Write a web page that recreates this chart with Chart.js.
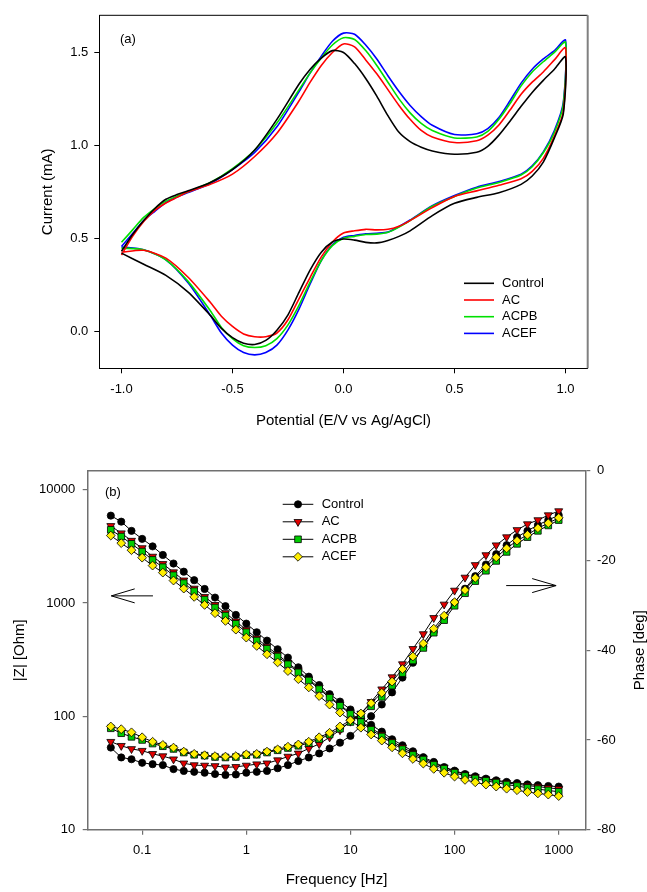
<!DOCTYPE html>
<html>
<head>
<meta charset="utf-8">
<script src="https://cdn.jsdelivr.net/npm/chart.js@4.4.0/dist/chart.umd.min.js"></script>
<style>
  body { margin: 0; background: #fff; }
  #wrap { position: relative; width: 647px; height: 892px; }
  #cvChart { position: absolute; left: 0; top: 0; }
  #bodeChart { position: absolute; left: 0; top: 440px; }
</style>
</head>
<body>
<div id="wrap">
  <canvas id="cvChart" width="647" height="440"></canvas>
  <canvas id="bodeChart" width="647" height="452"></canvas>
</div>
<script>
// ---------- panel (a): cyclic voltammograms ----------
const cvNames = ['Control', 'AC', 'ACPB', 'ACEF'];
const potentialTicks = [-1.0, -0.5, 0.0, 0.5, 1.0];
const currentTicks = [0.0, 0.5, 1.0, 1.5];

// potential (V) of the forward (anodic) and reverse (cathodic) sweeps
const scanForward = [-1.0, -0.95, -0.9, -0.85, -0.8, -0.75, -0.7, -0.6, -0.5, -0.4, -0.3, -0.2, -0.15, -0.1, -0.05, 0.0,
  0.05, 0.1, 0.15, 0.2, 0.25, 0.3, 0.35, 0.4, 0.5, 0.6, 0.65, 0.7, 0.75, 0.8, 0.85, 0.9, 0.95, 1.0];
const scanReverse = [0.99, 0.95, 0.9, 0.85, 0.8, 0.7, 0.6, 0.5, 0.4, 0.3, 0.25, 0.2, 0.15, 0.1, 0.05, 0.0,
  -0.05, -0.1, -0.15, -0.2, -0.25, -0.3, -0.35, -0.4, -0.45, -0.5, -0.55, -0.6, -0.7, -0.8, -0.9, -1.0];

// current (mA)
const controlFwd = [0.43, 0.52, 0.595, 0.66, 0.71, 0.735, 0.755, 0.80, 0.87, 0.975, 1.14, 1.33, 1.41, 1.47, 1.51, 1.50,
  1.44, 1.36, 1.265, 1.16, 1.07, 1.02, 0.99, 0.97, 0.952, 0.963, 0.995, 1.055, 1.13, 1.21, 1.285, 1.35, 1.41, 1.476];
const controlRev = [1.17, 1.04, 0.91, 0.835, 0.79, 0.745, 0.72, 0.688, 0.622, 0.54, 0.51, 0.488, 0.475, 0.478, 0.49, 0.496,
  0.48, 0.425, 0.33, 0.21, 0.088, 0.005, -0.05, -0.072, -0.065, -0.035, 0.015, 0.085, 0.21, 0.30, 0.36, 0.42];
const acFwd = [0.41, 0.51, 0.59, 0.65, 0.69, 0.72, 0.75, 0.79, 0.845, 0.94, 1.065, 1.24, 1.34, 1.43, 1.50, 1.546,
  1.53, 1.46, 1.385, 1.30, 1.215, 1.14, 1.08, 1.045, 1.015, 1.025, 1.055, 1.11, 1.19, 1.275, 1.34, 1.395, 1.46, 1.525];
const acRev = [1.18, 1.05, 0.93, 0.86, 0.82, 0.785, 0.755, 0.725, 0.665, 0.595, 0.565, 0.548, 0.545, 0.548, 0.54, 0.528,
  0.48, 0.40, 0.29, 0.175, 0.061, -0.01, -0.03, -0.03, -0.015, 0.025, 0.08, 0.155, 0.29, 0.393, 0.435, 0.425];
const acpbFwd = [0.478, 0.545, 0.612, 0.66, 0.70, 0.727, 0.75, 0.80, 0.875, 0.975, 1.12, 1.30, 1.39, 1.47, 1.54, 1.579,
  1.57, 1.51, 1.43, 1.34, 1.25, 1.175, 1.118, 1.08, 1.04, 1.045, 1.075, 1.14, 1.225, 1.32, 1.395, 1.45, 1.50, 1.555];
const acpbRev = [1.22, 1.07, 0.96, 0.885, 0.84, 0.80, 0.77, 0.725, 0.672, 0.595, 0.56, 0.532, 0.522, 0.52, 0.51, 0.50,
  0.46, 0.38, 0.265, 0.14, 0.034, -0.04, -0.078, -0.088, -0.078, -0.04, 0.02, 0.11, 0.268, 0.384, 0.438, 0.447];
const acefFwd = [0.456, 0.525, 0.595, 0.645, 0.692, 0.722, 0.746, 0.795, 0.87, 0.962, 1.10, 1.29, 1.39, 1.48, 1.56, 1.604,
  1.598, 1.54, 1.465, 1.375, 1.29, 1.215, 1.155, 1.108, 1.058, 1.062, 1.09, 1.15, 1.24, 1.335, 1.41, 1.465, 1.51, 1.566];
const acefRev = [1.23, 1.08, 0.965, 0.89, 0.845, 0.805, 0.775, 0.73, 0.675, 0.598, 0.563, 0.533, 0.527, 0.524, 0.515, 0.505,
  0.465, 0.38, 0.255, 0.12, 0.007, -0.075, -0.115, -0.128, -0.115, -0.075, -0.01, 0.085, 0.26, 0.384, 0.438, 0.453];

// ---------- panel (b): Bode plot ----------
const bodeNames = ['Control', 'AC', 'ACPB', 'ACEF'];
const freqTicks = [0.1, 1, 10, 100, 1000];
const impedanceTicks = [10, 100, 1000, 10000];
const phaseTicks = [-80, -60, -40, -20, 0];

const freqHz = [0.05, 0.063, 0.079, 0.1, 0.126, 0.158, 0.2, 0.251, 0.316, 0.398, 0.501, 0.631, 0.794,
  1, 1.26, 1.58, 2, 2.51, 3.16, 3.98, 5.01, 6.31, 7.94,
  10, 12.6, 15.8, 20, 25.1, 31.6, 39.8, 50.1, 63.1, 79.4,
  100, 126, 158, 200, 251, 316, 398, 501, 631, 794, 1000];

// |Z| (Ohm)
const zControl = [5900, 5220, 4330, 3680, 3160, 2655, 2230, 1890, 1590, 1330, 1117, 938, 785,
  658, 552, 466, 391, 330, 271, 224, 189, 157, 135,
  115, 97.7, 84.1, 73.3, 62.8, 55.6, 49.2, 43.6, 39.6, 35.7,
  33.2, 31.0, 29.6, 28.2, 27.3, 26.4, 25.8, 25.1, 24.7, 24.3, 24.0];
const zAC = [4790, 4130, 3550, 3055, 2570, 2213, 1871, 1585, 1343, 1135, 964, 817, 689,
  579, 488, 413, 351, 297, 251, 212, 179, 150, 126.5,
  107, 91.2, 78.5, 69.2, 60.3, 53.3, 47.4, 42.7, 38.5, 35.5,
  32.7, 30.7, 29.2, 27.9, 26.9, 25.9, 25.2, 24.5, 24.0, 23.4, 22.9];
const zACPB = [4420, 3855, 3327, 2844, 2399, 2070, 1758, 1496, 1271, 1072, 912, 774, 655,
  552, 466, 395, 337, 288, 244, 207, 174, 146, 124,
  105, 89.1, 76.2, 66.4, 58.2, 51.3, 45.7, 41.5, 37.3, 34.5,
  31.8, 29.8, 28.3, 27.0, 26.0, 25.0, 24.3, 23.4, 22.8, 22.2, 21.6];
const zACEF = [3936, 3373, 2924, 2512, 2138, 1854, 1578, 1340, 1132, 962, 813, 695, 582,
  495, 418, 353, 299, 251, 213, 180, 151, 127, 108,
  92.3, 79.4, 69.2, 61.1, 53.3, 47.2, 42.1, 38.3, 34.4, 31.8,
  29.4, 27.5, 26.2, 25.0, 24.0, 23.0, 22.3, 21.5, 20.9, 20.4, 19.8];

// phase (deg)
const phControl = [-61.7, -63.9, -64.3, -65.1, -65.4, -65.6, -66.5, -66.9, -67.1, -67.3, -67.6, -67.8, -67.7,
  -67.3, -67.1, -66.9, -66.3, -65.6, -64.7, -63.9, -63.0, -61.9, -60.6,
  -59.1, -56.9, -54.7, -52.1, -49.4, -46.1, -42.8, -39.2, -35.9, -32.7,
  -29.4, -26.3, -23.5, -20.9, -18.6, -16.6, -14.8, -13.4, -12.1, -11.0, -9.9];
const phAC = [-60.4, -61.3, -62.0, -62.4, -63.1, -63.6, -64.3, -65.2, -65.6, -65.7, -65.8, -66.1, -66.0,
  -65.7, -65.4, -65.2, -64.5, -63.7, -63.0, -61.9, -60.9, -59.4, -57.8,
  -55.9, -54.1, -51.5, -48.7, -46.0, -43.1, -39.7, -36.4, -32.8, -29.8,
  -26.7, -23.8, -21.0, -18.8, -16.6, -14.8, -13.2, -11.9, -11.0, -9.9, -9.0];
const phACPB = [-57.4, -58.5, -59.3, -60.0, -60.8, -61.4, -62.0, -62.8, -63.3, -63.5, -63.8, -63.9, -63.8,
  -63.4, -63.3, -62.8, -62.3, -61.8, -61.3, -60.7, -59.8, -58.8, -57.5,
  -56.0, -54.5, -52.5, -50.4, -47.9, -45.1, -42.3, -39.5, -36.1, -33.3,
  -30.1, -27.3, -24.6, -22.3, -20.1, -18.1, -16.3, -14.8, -13.4, -12.2, -11.0];
const phACEF = [-57.0, -57.6, -58.3, -59.4, -60.4, -61.1, -61.7, -62.6, -63.1, -63.4, -63.6, -63.7, -63.6,
  -63.2, -63.1, -62.6, -62.1, -61.5, -61.0, -60.4, -59.4, -58.4, -57.0,
  -55.6, -54.1, -51.8, -49.5, -47.0, -44.2, -41.4, -38.5, -35.2, -32.3,
  -29.3, -26.6, -23.9, -21.5, -19.3, -17.3, -15.6, -14.3, -12.8, -11.7, -10.5];

const FONT = '"Liberation Sans", Arial, Helvetica, sans-serif';
Chart.defaults.font.family = FONT;
Chart.defaults.color = '#000';

// draws the missing frame edges round the plot area
const frameBox = {
  id: 'frameBox',
  afterDraw(chart, args, opts) {
    const { ctx, chartArea: a } = chart;
    ctx.save();
    if (opts.top) {
      ctx.strokeStyle = opts.top; ctx.lineWidth = opts.width;
      ctx.beginPath(); ctx.moveTo(a.left, a.top); ctx.lineTo(a.right, a.top); ctx.stroke();
    }
    if (opts.right) {
      ctx.strokeStyle = opts.right; ctx.lineWidth = opts.rightWidth || opts.width;
      ctx.beginPath(); ctx.moveTo(a.right, a.top); ctx.lineTo(a.right, a.bottom); ctx.stroke();
    }
    ctx.restore();
  }
};

function drawMarker(ctx, style, x, y, r, fill) {
  ctx.save();
  ctx.fillStyle = fill; ctx.strokeStyle = '#000'; ctx.lineWidth = 0.8;
  ctx.beginPath();
  if (style === 'circle') {
    ctx.arc(x, y, r, 0, Math.PI * 2);
  } else if (style === 'triangle') {
    ctx.moveTo(x, y + r); ctx.lineTo(x - r * 0.866, y - r * 0.5); ctx.lineTo(x + r * 0.866, y - r * 0.5); ctx.closePath();
  } else if (style === 'rect') {
    const s = r * Math.SQRT1_2; ctx.rect(x - s, y - s, 2 * s, 2 * s);
  } else {
    ctx.moveTo(x, y - r); ctx.lineTo(x + r, y); ctx.lineTo(x, y + r); ctx.lineTo(x - r, y); ctx.closePath();
  }
  ctx.fill(); ctx.stroke();
  ctx.restore();
}

// legend, panel letter, arrows and right title drawn inside the plot
const extras = {
  id: 'extras',
  afterDatasetsDraw(chart, args, opts) {
    const { ctx, chartArea: a } = chart;
    ctx.save();
    ctx.font = '13px ' + FONT;
    ctx.textBaseline = 'middle';
    ctx.fillStyle = '#000';
    ctx.fillText(opts.letter, a.left + opts.letterX, a.top + opts.letterY);

    const lg = opts.legend;
    lg.items.forEach((it, i) => {
      const x = a.left + lg.x, y = a.top + lg.y + i * lg.gap;
      ctx.strokeStyle = it.color; ctx.lineWidth = it.width;
      ctx.beginPath(); ctx.moveTo(x, y); ctx.lineTo(x + lg.len, y); ctx.stroke();
      if (it.marker) drawMarker(ctx, it.marker, x + lg.len / 2, y, it.radius, it.fill);
      ctx.fillStyle = '#000';
      ctx.fillText(it.label, x + lg.textX, y);
    });

    (opts.arrows || []).forEach(ar => {
      const xs = chart.scales.x, ys = chart.scales[ar.axis];
      const xt = xs.getPixelForValue(ar.tail), xp = xs.getPixelForValue(ar.tip);
      const xh = xs.getPixelForValue(ar.head), y = ys.getPixelForValue(ar.y);
      ctx.strokeStyle = '#000'; ctx.lineWidth = 1;
      ctx.beginPath();
      ctx.moveTo(xt, y); ctx.lineTo(xp, y);
      ctx.moveTo(xh, y - 7); ctx.lineTo(xp, y); ctx.lineTo(xh, y + 7);
      ctx.stroke();
    });

    if (opts.rightTitle) {
      ctx.font = '15px ' + FONT;
      ctx.textAlign = 'center';
      ctx.translate(opts.rightTitleX, (a.top + a.bottom) / 2);
      ctx.rotate(-Math.PI / 2);
      ctx.fillText(opts.rightTitle, 0, 0);
    }
    ctx.restore();
  }
};

// ---------- chart (a) ----------
const cvFwd = [controlFwd, acFwd, acpbFwd, acefFwd];
const cvRev = [controlRev, acRev, acpbRev, acefRev];
const cvColors = ['#000000', '#ff0000', '#00e000', '#0000ff'];

new Chart(document.getElementById('cvChart'), {
  type: 'scatter',
  data: {
    datasets: cvNames.map((name, i) => ({
      label: name,
      data: scanForward.map((x, j) => ({ x: x, y: cvFwd[i][j] }))
        .concat(scanReverse.map((x, j) => ({ x: x, y: cvRev[i][j] }))),
      showLine: true,
      borderColor: cvColors[i],
      borderWidth: 1.6,
      pointRadius: 0,
      tension: 0.25
    }))
  },
  options: {
    responsive: false,
    animation: false,
    events: [],
    layout: { padding: { top: 15.3, right: 59.3, left: 0, bottom: 0 } },
    plugins: {
      legend: { display: false },
      tooltip: { enabled: false },
      frameBox: { top: '#000', right: '#808080', width: 1, rightWidth: 2 },
      extras: {
        letter: '(a)', letterX: 20.7, letterY: 23.7,
        legend: {
          x: 364.7, y: 268, gap: 16.7, len: 30, textX: 38,
          items: cvNames.map((n, i) => ({ label: n, color: cvColors[i], width: 1.6 }))
        }
      }
    },
    scales: {
      x: {
        type: 'linear', min: -1.1, max: 1.1,
        afterBuildTicks: s => { s.ticks = potentialTicks.map(v => ({ value: v })); },
        afterFit: s => { s.height = 71.7; },
        ticks: { font: { size: 13 }, padding: 8, autoSkip: false, maxRotation: 0, callback: v => v.toFixed(1) },
        grid: { display: true, drawOnChartArea: false, drawTicks: true, tickLength: 5, color: '#000' },
        border: { display: true, color: '#000', width: 1 },
        title: { display: true, text: 'Potential (E/V vs Ag/AgCl)', font: { size: 15 }, padding: { top: 0, bottom: 10 } }
      },
      y: {
        type: 'linear', min: -0.2, max: 1.7,
        afterBuildTicks: s => { s.ticks = currentTicks.map(v => ({ value: v })); },
        afterFit: s => { s.width = 99.3; },
        ticks: { font: { size: 13 }, padding: 6, autoSkip: false, callback: v => v.toFixed(1) },
        grid: { display: true, drawOnChartArea: false, drawTicks: true, tickLength: 5, color: '#000' },
        border: { display: true, color: '#000', width: 1 },
        title: { display: true, text: 'Current (mA)', font: { size: 15 }, padding: { top: 39, bottom: 0 } }
      }
    }
  },
  plugins: [frameBox, extras]
});

// ---------- chart (b) ----------
const zSets = [zControl, zAC, zACPB, zACEF];
const phSets = [phControl, phAC, phACPB, phACEF];
const bodeFill = ['#000000', '#e00000', '#00cc00', '#ffee00'];
const bodeMarker = ['circle', 'triangle', 'rect', 'rectRot'];
const bodeRadius = [3.6, 4.6, 4.7, 4.4];
const bodeOrder = [4, 3, 2, 1];
const axisGray = '#707070';

function bodeDataset(name, i, values, axis) {
  return {
    label: name,
    data: freqHz.map((f, j) => ({ x: f, y: values[j] })),
    yAxisID: axis,
    showLine: true,
    borderColor: '#000',
    borderWidth: 1,
    pointStyle: bodeMarker[i],
    pointRotation: bodeMarker[i] === 'triangle' ? 180 : 0,
    pointRadius: bodeRadius[i],
    pointBackgroundColor: bodeFill[i],
    pointBorderColor: '#000',
    pointBorderWidth: 0.8,
    order: bodeOrder[i]
  };
}

const bodeSets = [];
bodeNames.forEach((n, i) => {
  bodeSets.push(bodeDataset(n, i, zSets[i], 'y'));
  bodeSets.push(bodeDataset(n + ' phase', i, phSets[i], 'y2'));
});

new Chart(document.getElementById('bodeChart'), {
  type: 'scatter',
  data: { datasets: bodeSets },
  options: {
    responsive: false,
    animation: false,
    events: [],
    layout: { padding: { top: 30.7, right: 0, left: 0, bottom: 0 } },
    plugins: {
      legend: { display: false },
      tooltip: { enabled: false },
      frameBox: { top: axisGray, width: 1.5 },
      extras: {
        letter: '(b)', letterX: 17.3, letterY: 22,
        legend: {
          x: 195, y: 33.6, gap: 17.5, len: 30.6, textX: 39,
          items: bodeNames.map((n, i) => ({
            label: n, color: '#000', width: 1, marker: bodeMarker[i] === 'triangle' ? 'triangle' : bodeMarker[i],
            radius: bodeRadius[i], fill: bodeFill[i]
          }))
        },
        arrows: [
          { axis: 'y', tail: 0.127, tip: 0.0506, head: 0.0848, y: 1156 },
          { axis: 'y2', tail: 313, tip: 944, head: 556, y: -25.6 }
        ],
        rightTitle: 'Phase [deg]', rightTitleX: 640
      }
    },
    scales: {
      x: {
        type: 'logarithmic', min: 0.03, max: 1800,
        afterBuildTicks: s => { s.ticks = freqTicks.map(v => ({ value: v })); },
        afterFit: s => { s.height = 62.3; },
        ticks: { font: { size: 13 }, padding: 7.5, autoSkip: false, maxRotation: 0, callback: v => String(v) },
        grid: { display: true, drawOnChartArea: false, drawTicks: true, tickLength: 5, color: axisGray, lineWidth: 1.2 },
        border: { display: true, color: axisGray, width: 1.5 },
        title: { display: true, text: 'Frequency [Hz]', font: { size: 15 }, padding: { top: 0, bottom: 3 } }
      },
      y: {
        type: 'logarithmic', position: 'left', min: 10, max: 14700,
        afterBuildTicks: s => { s.ticks = impedanceTicks.map(v => ({ value: v })); },
        afterFit: s => { s.width = 87.7; },
        ticks: { font: { size: 13 }, padding: 7.5, autoSkip: false, callback: v => String(v) },
        grid: { display: true, drawOnChartArea: false, drawTicks: true, tickLength: 5, color: axisGray, lineWidth: 1.2 },
        border: { display: true, color: axisGray, width: 1.5 },
        title: { display: true, text: '|Z| [Ohm]', font: { size: 15 }, padding: { top: 11, bottom: 0 } }
      },
      y2: {
        type: 'linear', position: 'right', min: -80, max: 0,
        afterBuildTicks: s => { s.ticks = phaseTicks.map(v => ({ value: v })); },
        afterFit: s => { s.width = 61.7; },
        ticks: { font: { size: 13 }, padding: 6.7, autoSkip: false, callback: v => String(v) },
        grid: { display: true, drawOnChartArea: false, drawTicks: true, tickLength: 5, color: axisGray, lineWidth: 1.2 },
        border: { display: true, color: axisGray, width: 1.5 }
      }
    }
  },
  plugins: [frameBox, extras]
});
</script>
</body>
</html>
